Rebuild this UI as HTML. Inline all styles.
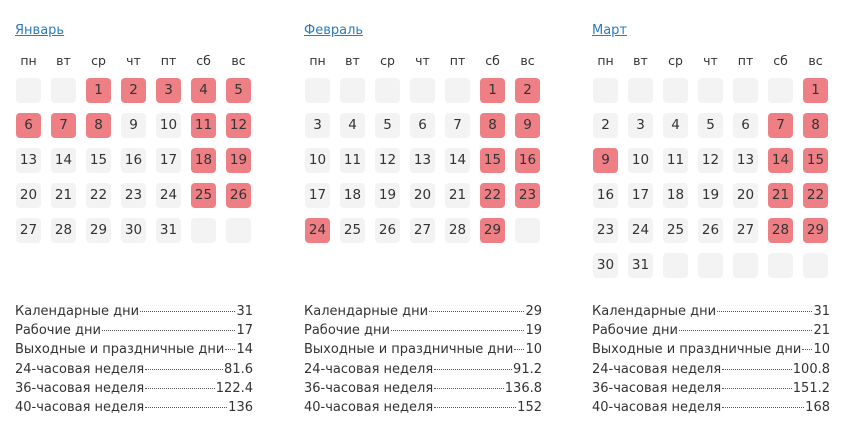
<!DOCTYPE html>
<html><head><meta charset="utf-8"><style>
body{margin:0;width:850px;height:438px;background:#fff;font-family:"DejaVu Sans","Liberation Sans",sans-serif;color:#333;position:relative;overflow:hidden}
.m{position:absolute;top:0;width:240px}
.t{position:absolute;top:23px;left:0;font-size:13px;color:#2b7bbd;text-decoration:underline}
.h{position:absolute;top:53px;left:1px;display:grid;grid-template-columns:repeat(7,25px);column-gap:10px;font-size:12.5px;text-align:center}
.g{position:absolute;top:78px;left:1px;display:grid;grid-template-columns:repeat(7,25px);grid-auto-rows:25px;column-gap:10px;row-gap:10px}
.g div{background:#f3f3f3;border-radius:4px;font-size:13.5px;line-height:25px;text-align:center}
.g .r{background:#ee7f85}
.s{position:absolute;top:302px;left:0;width:238px;font-size:13px;line-height:19.2px}
.s div{display:flex;align-items:baseline;white-space:nowrap}
.s i{flex:1;border-bottom:1px dotted #555;margin:0 1px;height:0;position:relative;top:-3px}
</style></head><body>

<div class="m" style="left:15px">
<div class="t">Январь</div>
<div class="h"><span>пн</span><span>вт</span><span>ср</span><span>чт</span><span>пт</span><span>сб</span><span>вс</span></div>
<div class="g">
<div></div><div></div><div class="r">1</div><div class="r">2</div><div class="r">3</div><div class="r">4</div><div class="r">5</div>
<div class="r">6</div><div class="r">7</div><div class="r">8</div><div>9</div><div>10</div><div class="r">11</div><div class="r">12</div>
<div>13</div><div>14</div><div>15</div><div>16</div><div>17</div><div class="r">18</div><div class="r">19</div>
<div>20</div><div>21</div><div>22</div><div>23</div><div>24</div><div class="r">25</div><div class="r">26</div>
<div>27</div><div>28</div><div>29</div><div>30</div><div>31</div><div></div><div></div>
</div>
<div class="s">
<div>Календарные дни<i></i>31</div>
<div>Рабочие дни<i></i>17</div>
<div>Выходные и праздничные дни<i></i>14</div>
<div>24-часовая неделя<i></i>81.6</div>
<div>36-часовая неделя<i></i>122.4</div>
<div>40-часовая неделя<i></i>136</div>
</div>
</div>

<div class="m" style="left:304px">
<div class="t">Февраль</div>
<div class="h"><span>пн</span><span>вт</span><span>ср</span><span>чт</span><span>пт</span><span>сб</span><span>вс</span></div>
<div class="g">
<div></div><div></div><div></div><div></div><div></div><div class="r">1</div><div class="r">2</div>
<div>3</div><div>4</div><div>5</div><div>6</div><div>7</div><div class="r">8</div><div class="r">9</div>
<div>10</div><div>11</div><div>12</div><div>13</div><div>14</div><div class="r">15</div><div class="r">16</div>
<div>17</div><div>18</div><div>19</div><div>20</div><div>21</div><div class="r">22</div><div class="r">23</div>
<div class="r">24</div><div>25</div><div>26</div><div>27</div><div>28</div><div class="r">29</div><div></div>
</div>
<div class="s">
<div>Календарные дни<i></i>29</div>
<div>Рабочие дни<i></i>19</div>
<div>Выходные и праздничные дни<i></i>10</div>
<div>24-часовая неделя<i></i>91.2</div>
<div>36-часовая неделя<i></i>136.8</div>
<div>40-часовая неделя<i></i>152</div>
</div>
</div>

<div class="m" style="left:592px">
<div class="t">Март</div>
<div class="h"><span>пн</span><span>вт</span><span>ср</span><span>чт</span><span>пт</span><span>сб</span><span>вс</span></div>
<div class="g">
<div></div><div></div><div></div><div></div><div></div><div></div><div class="r">1</div>
<div>2</div><div>3</div><div>4</div><div>5</div><div>6</div><div class="r">7</div><div class="r">8</div>
<div class="r">9</div><div>10</div><div>11</div><div>12</div><div>13</div><div class="r">14</div><div class="r">15</div>
<div>16</div><div>17</div><div>18</div><div>19</div><div>20</div><div class="r">21</div><div class="r">22</div>
<div>23</div><div>24</div><div>25</div><div>26</div><div>27</div><div class="r">28</div><div class="r">29</div>
<div>30</div><div>31</div><div></div><div></div><div></div><div></div><div></div>
</div>
<div class="s">
<div>Календарные дни<i></i>31</div>
<div>Рабочие дни<i></i>21</div>
<div>Выходные и праздничные дни<i></i>10</div>
<div>24-часовая неделя<i></i>100.8</div>
<div>36-часовая неделя<i></i>151.2</div>
<div>40-часовая неделя<i></i>168</div>
</div>
</div>

</body></html>
